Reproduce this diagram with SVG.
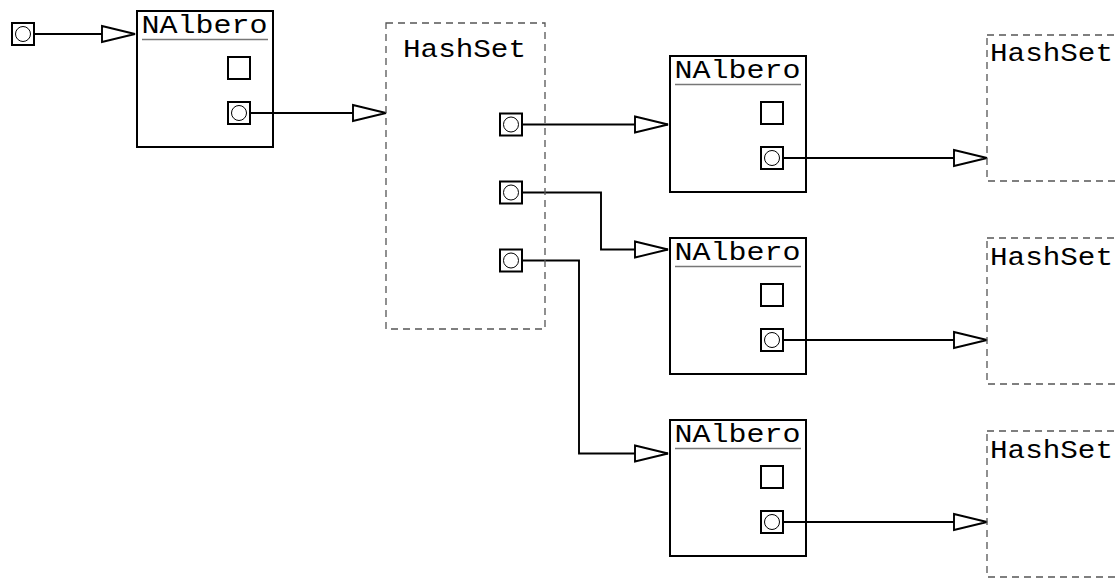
<svg xmlns="http://www.w3.org/2000/svg" width="1116" height="580" viewBox="0 0 1116 580">
  <style>
    .box { fill: none; stroke: #000; stroke-width: 2; }
    .set { fill: none; stroke: #555; stroke-width: 1.3; stroke-dasharray: 7 5; }
    .slot { fill: #fff; stroke: #000; stroke-width: 2; }
    .dot { fill: #fff; stroke: #000; stroke-width: 1; }
    .rule { stroke: #777; stroke-width: 1.5; }
    .title { font-family: "Courier New", "Liberation Mono", monospace; font-size: 25px; fill: #000; }
    .link { fill: none; stroke: #000; stroke-width: 1.9; marker-end: url(#head); }
  </style>
  <defs>
    <marker id="head" markerUnits="userSpaceOnUse" markerWidth="40" markerHeight="24" viewBox="0 0 40 24" refX="35" refY="12" orient="auto">
      <path d="M2,4 L35,12 L2,20 Z" fill="#fff" stroke="#000" stroke-width="1.9"/>
    </marker>
  </defs>

  <g id="connectors">
    <path class="link" d="M23,34 H135"/>
    <path class="link" d="M239,113 H386"/>
    <path class="link" d="M511,124.5 H668"/>
    <path class="link" d="M511,192.5 H601 V249.5 H668"/>
    <path class="link" d="M511,260.5 H579 V453.5 H668"/>
    <path class="link" d="M772,158 H987"/>
    <path class="link" d="M772,340 H987"/>
    <path class="link" d="M772,522 H987"/>
  </g>

  <g id="root-ref">
    <rect class="slot" x="12" y="23" width="22" height="22"/>
    <circle class="dot" cx="23" cy="34" r="7.5"/>
  </g>

  <g id="nalbero-1">
    <rect class="box" x="137" y="11" width="136" height="136"/>
    <text class="title" x="141.5" y="33" textLength="126" lengthAdjust="spacingAndGlyphs">NAlbero</text>
    <line class="rule" x1="142" y1="39.5" x2="268" y2="39.5"/>
    <rect class="slot" x="228" y="57" width="22" height="22"/>
    <rect class="slot" x="228" y="102" width="22" height="22"/>
    <circle class="dot" cx="239" cy="113" r="7.5"/>
  </g>

  <g id="hashset-1">
    <rect class="set" x="386" y="23" width="159" height="306"/>
    <text class="title" x="403" y="57" textLength="123" lengthAdjust="spacingAndGlyphs">HashSet</text>
    <rect class="slot" x="500" y="113.5" width="22" height="22"/>
    <circle class="dot" cx="511" cy="124.5" r="7.5"/>
    <rect class="slot" x="500" y="181.5" width="22" height="22"/>
    <circle class="dot" cx="511" cy="192.5" r="7.5"/>
    <rect class="slot" x="500" y="249.5" width="22" height="22"/>
    <circle class="dot" cx="511" cy="260.5" r="7.5"/>
  </g>

  <g id="nalbero-2">
    <rect class="box" x="670" y="56" width="136" height="136"/>
    <text class="title" x="674.5" y="78" textLength="126" lengthAdjust="spacingAndGlyphs">NAlbero</text>
    <line class="rule" x1="675" y1="84.5" x2="801" y2="84.5"/>
    <rect class="slot" x="761" y="102" width="22" height="22"/>
    <rect class="slot" x="761" y="147" width="22" height="22"/>
    <circle class="dot" cx="772" cy="158" r="7.5"/>
  </g>

  <g id="nalbero-3">
    <rect class="box" x="670" y="238" width="136" height="136"/>
    <text class="title" x="674.5" y="260" textLength="126" lengthAdjust="spacingAndGlyphs">NAlbero</text>
    <line class="rule" x1="675" y1="266.5" x2="801" y2="266.5"/>
    <rect class="slot" x="761" y="284" width="22" height="22"/>
    <rect class="slot" x="761" y="329" width="22" height="22"/>
    <circle class="dot" cx="772" cy="340" r="7.5"/>
  </g>

  <g id="nalbero-4">
    <rect class="box" x="670" y="420" width="136" height="136"/>
    <text class="title" x="674.5" y="442" textLength="126" lengthAdjust="spacingAndGlyphs">NAlbero</text>
    <line class="rule" x1="675" y1="448.5" x2="801" y2="448.5"/>
    <rect class="slot" x="761" y="466" width="22" height="22"/>
    <rect class="slot" x="761" y="511" width="22" height="22"/>
    <circle class="dot" cx="772" cy="522" r="7.5"/>
  </g>

  <g id="hashset-2">
    <rect class="set" x="987" y="35" width="159" height="146"/>
    <text class="title" x="990" y="61" textLength="123" lengthAdjust="spacingAndGlyphs">HashSet</text>
  </g>

  <g id="hashset-3">
    <rect class="set" x="987" y="238" width="159" height="146"/>
    <text class="title" x="990" y="265" textLength="123" lengthAdjust="spacingAndGlyphs">HashSet</text>
  </g>

  <g id="hashset-4">
    <rect class="set" x="987" y="431" width="159" height="146"/>
    <text class="title" x="990" y="458" textLength="123" lengthAdjust="spacingAndGlyphs">HashSet</text>
  </g>
</svg>
